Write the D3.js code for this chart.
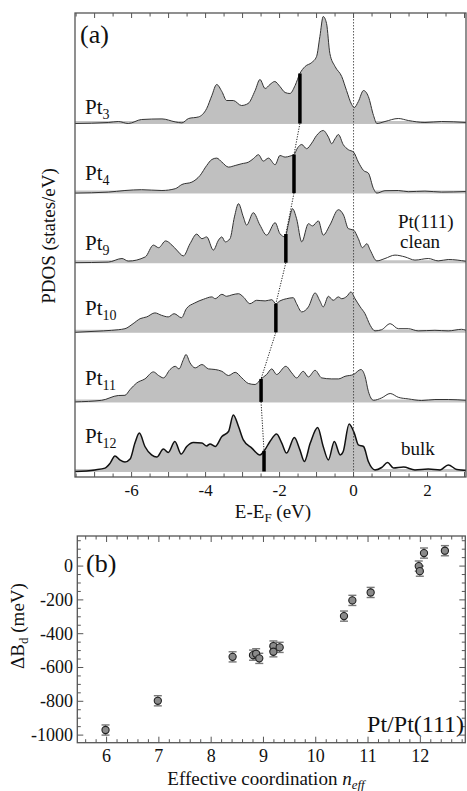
<!DOCTYPE html>
<html>
<head>
<meta charset="utf-8">
<script src="https://cdn.jsdelivr.net/npm/d3@7"></script>
<style>
  body { margin: 0; background: #fff; }
  text { font-family: "Liberation Serif", "Times New Roman", serif; fill: #111; }
</style>
</head>
<body>
<div id="chart"></div>
<script>
// ---- data ----
const clusters = ["3", "4", "9", "10", "11", "12"];

// PDOS curves, [E - E_F (eV), PDOS (states/eV)]
const pdosPt3 = [[-7.53,0],[-6.63,.05],[-6.36,.1],[-6.09,0],[-5.73,.2],[-5.18,.23],[-4.82,.08],[-4.64,.03],[-4.46,.25],[-4.19,.33],[-3.97,.75],[-3.83,1.4],[-3.70,1.95],[-3.56,1.6],[-3.43,1.15],[-3.25,1.15],[-3.03,.9],[-2.85,1.0],[-2.66,1.65],[-2.53,2.2],[-2.39,1.75],[-2.26,1.95],[-2.13,2.1],[-1.99,1.85],[-1.85,1.55],[-1.72,1.5],[-1.58,1.9],[-1.45,2.5],[-1.31,2.85],[-1.13,3.05],[-1.00,3.35],[-0.91,4.35],[-0.82,5.35],[-0.73,5.0],[-0.64,3.5],[-0.50,2.85],[-0.32,2.35],[-0.19,1.65],[-0.05,.95],[0.02,.8],[0.13,1.1],[0.27,1.65],[0.40,1.35],[0.54,.4],[0.63,0],[0.85,.1],[1.21,.25],[1.48,.15],[1.93,.05],[2.38,.1],[3.04,.05]];
const pdosPt4 = [[-7.53,0],[-6.63,.05],[-6.18,.13],[-5.73,.17],[-5.18,.13],[-4.82,.22],[-4.64,.43],[-4.37,.55],[-4.15,.88],[-3.97,1.38],[-3.83,1.68],[-3.70,1.75],[-3.56,1.55],[-3.38,1.3],[-3.20,1.38],[-3.02,1.47],[-2.84,1.55],[-2.71,1.72],[-2.57,1.92],[-2.44,1.6],[-2.30,1.75],[-2.12,1.42],[-1.99,1.88],[-1.85,1.8],[-1.72,1.85],[-1.61,1.93],[-1.51,2.27],[-1.40,2.43],[-1.27,2.22],[-1.13,2.5],[-1.00,2.88],[-0.82,3.13],[-0.68,2.8],[-0.59,2.47],[-0.50,2.72],[-0.41,2.93],[-0.28,2.43],[-0.14,2.17],[0.0,2.05],[0.13,1.55],[0.27,1.13],[0.40,1.0],[0.54,.22],[0.63,0],[0.85,.12],[1.21,.13],[1.48,.07],[1.93,.1],[2.38,.05],[3.04,.08]];
const pdosPt9 = [[-7.53,0],[-6.63,.03],[-6.26,.21],[-6.09,.08],[-5.63,.29],[-5.41,.88],[-5.27,.75],[-5.08,1.09],[-4.91,.88],[-4.78,.63],[-4.60,.34],[-4.42,.95],[-4.24,1.43],[-4.10,1.2],[-3.97,1.29],[-3.79,.63],[-3.65,1.13],[-3.56,1.29],[-3.47,1.04],[-3.34,1.2],[-3.22,2.29],[-3.11,2.95],[-2.98,2.29],[-2.89,1.88],[-2.71,2.5],[-2.53,1.88],[-2.35,1.38],[-2.12,2.0],[-1.99,1.45],[-1.85,1.29],[-1.76,1.95],[-1.65,2.7],[-1.54,2.2],[-1.40,1.04],[-1.22,1.95],[-1.11,1.84],[-0.95,2.09],[-0.82,1.38],[-0.64,1.88],[-0.41,2.65],[-0.27,2.38],[-0.14,1.7],[0.0,1.63],[0.13,1.2],[0.24,.75],[0.36,.95],[0.45,.63],[0.63,.09],[0.85,.21],[1.12,.38],[1.39,.29],[1.66,.13],[2.02,.21],[2.29,.09],[2.56,.16],[3.04,.07]];
const pdosPt10 = [[-7.53,0],[-6.99,.05],[-6.54,.1],[-6.18,.18],[-5.96,.43],[-5.77,.68],[-5.59,.77],[-5.37,.97],[-5.19,.85],[-5.01,.77],[-4.85,.93],[-4.65,.73],[-4.52,1.18],[-4.29,1.47],[-4.06,1.65],[-3.83,1.77],[-3.74,1.68],[-3.56,1.9],[-3.43,1.8],[-3.29,1.87],[-3.11,1.93],[-2.98,1.77],[-2.80,1.43],[-2.62,1.6],[-2.39,1.57],[-2.21,1.63],[-2.10,1.43],[-1.99,1.57],[-1.81,1.68],[-1.63,1.73],[-1.54,1.43],[-1.40,1.02],[-1.22,1.27],[-1.04,1.97],[-0.91,1.57],[-0.82,1.27],[-0.68,1.8],[-0.55,1.6],[-0.41,1.77],[-0.32,1.68],[-0.18,1.8],[-0.07,2.02],[0.04,1.68],[0.18,1.27],[0.31,.93],[0.45,.35],[0.58,.07],[0.76,.13],[0.99,.43],[1.21,.18],[1.48,.18],[1.75,.07],[2.20,.1],[2.56,.07],[2.92,.15],[3.04,.1]];
const pdosPt11 = [[-7.53,0],[-6.81,.08],[-6.36,.32],[-6.18,.33],[-6.04,.62],[-5.86,.95],[-5.64,1.15],[-5.41,1.5],[-5.27,1.32],[-5.14,1.2],[-4.96,1.62],[-4.82,1.78],[-4.72,1.65],[-4.60,2.12],[-4.53,2.37],[-4.42,1.95],[-4.28,1.7],[-4.10,1.87],[-3.92,1.65],[-3.74,1.62],[-3.56,1.53],[-3.38,1.32],[-3.20,1.48],[-3.02,1.2],[-2.84,.92],[-2.66,.87],[-2.50,1.15],[-2.35,1.37],[-2.21,1.65],[-2.08,1.37],[-1.83,1.78],[-1.67,1.45],[-1.54,1.2],[-1.36,1.53],[-1.22,1.25],[-1.04,1.58],[-0.86,1.2],[-0.59,1.15],[-0.41,1.15],[-0.23,1.28],[0.0,1.37],[0.20,1.62],[0.31,1.28],[0.40,.53],[0.54,.08],[0.76,.2],[0.99,.42],[1.21,.23],[1.48,.15],[1.84,.07],[2.20,.12],[2.56,.12],[3.04,.08]];
const pdosPt12 = [[-7.53,0],[-6.99,.08],[-6.72,.17],[-6.58,.42],[-6.45,.78],[-6.32,.58],[-6.18,.47],[-6.04,.62],[-5.91,1.42],[-5.79,1.92],[-5.64,1.25],[-5.46,.83],[-5.32,.72],[-5.14,1.12],[-5.01,.95],[-4.83,1.5],[-4.66,.87],[-4.51,1.25],[-4.33,1.45],[-4.10,1.42],[-3.97,1.28],[-3.88,1.38],[-3.74,1.25],[-3.56,1.75],[-3.38,2.0],[-3.25,2.83],[-3.11,2.25],[-2.98,1.58],[-2.75,1.17],[-2.53,.83],[-2.41,1.05],[-2.26,1.5],[-2.08,1.87],[-1.94,1.42],[-1.81,.92],[-1.60,1.7],[-1.45,1.08],[-1.33,.5],[-1.17,1.42],[-0.97,2.2],[-0.82,1.25],[-0.68,.58],[-0.52,1.5],[-0.36,.83],[-0.28,1.0],[-0.12,2.38],[0.02,1.92],[0.13,1.33],[0.27,1.25],[0.40,.5],[0.58,.08],[0.76,.2],[0.92,.45],[1.08,.17],[1.35,.22],[1.66,.08],[2.02,.12],[2.34,.08],[2.56,.33],[2.79,.1],[3.04,.05]];
const pdosCurves = [pdosPt3, pdosPt4, pdosPt9, pdosPt10, pdosPt11, pdosPt12];

// d-band centres (eV)
const dCentres = [-1.45, -1.61, -1.83, -2.10, -2.50, -2.42];
const occupiedTo = 0.6;

// panel (b)
const neff = [5.98, 6.98, 8.41, 8.80, 8.86, 8.92, 9.19, 9.19, 9.31, 10.54, 10.70, 11.05, 11.97, 11.99, 12.07, 12.47];
const deltaBd = [-970, -797, -537, -527, -519, -546, -473, -507, -481, -296, -203, -156, 0, -30, 77, 91];
const deltaErr = 30;

const energyTicks = [-6, -4, -2, 0, 2];
const coordTicks = [6, 7, 8, 9, 10, 11, 12];
const shiftTicks = [0, -200, -400, -600, -800, -1000];

// ---- drawing ----
const width = 467, height = 791;
const svg = d3.select("#chart").append("svg")
    .attr("width", width)
    .attr("height", height);

const frameColor = "#555";

// panel (a)
const a = { left: 75, right: 466, top: 13, bottom: 477 };
const x = d3.scaleLinear().domain([-7.53, 3.04]).range([a.left, a.right]);
const h = d3.scaleLinear().domain([0, 1]).range([0, 20]);
const baseline = i => 123.5 + i * 69.6;

svg.append("clipPath").attr("id", "occ")
  .append("rect")
    .attr("x", a.left).attr("y", 0)
    .attr("width", x(occupiedTo) - a.left).attr("height", a.bottom);

function valueAt(curve, e) {
    const i = d3.bisector(d => d[0]).left(curve, e);
    const p0 = curve[i - 1], p1 = curve[i];
    const t = (e - p0[0]) / (p1[0] - p0[0]);
    return p0[1] + t * (p1[1] - p0[1]);
}

pdosCurves.forEach((curve, i) => {
    const b = baseline(i);
    const area = d3.area()
        .x(d => x(d[0]))
        .y0(b)
        .y1(d => b - h(d[1]))
        .curve(d3.curveMonotoneX);
    const line = d3.line()
        .x(d => x(d[0]))
        .y(d => b - h(d[1]))
        .curve(d3.curveMonotoneX);

    svg.append("line")
        .attr("x1", a.left).attr("x2", a.right)
        .attr("y1", b - 1).attr("y2", b - 1)
        .attr("stroke", "#c4c4c4").attr("stroke-width", 3);

    svg.append("path")
        .datum(curve)
        .attr("d", area)
        .attr("fill", "#c0c0c0")
        .attr("clip-path", "url(#occ)");

    svg.append("path")
        .datum(curve)
        .attr("d", line)
        .attr("fill", "none")
        .attr("stroke", i === 5 ? "#111" : "#333")
        .attr("stroke-width", i === 5 ? 1.5 : 1);
});

// Fermi level
svg.append("line")
    .attr("x1", x(0)).attr("x2", x(0))
    .attr("y1", a.top).attr("y2", a.bottom)
    .attr("stroke", "#333").attr("stroke-width", 0.8)
    .attr("stroke-dasharray", "1.5,1.5");

// d-band centre bars and dotted connector
const bars = dCentres.map((e, i) => ({
    x: x(e),
    y0: baseline(i),
    y1: baseline(i) - h(valueAt(pdosCurves[i], e))
}));
for (let i = 0; i < bars.length - 1; i++) {
    svg.append("line")
        .attr("x1", bars[i].x).attr("y1", bars[i].y0)
        .attr("x2", bars[i + 1].x).attr("y2", bars[i + 1].y1)
        .attr("stroke", "#222").attr("stroke-width", 1)
        .attr("stroke-dasharray", "1.2,1.4");
}
svg.selectAll(".dbar")
  .data(bars)
  .enter().append("line")
    .attr("x1", d => d.x).attr("x2", d => d.x)
    .attr("y1", d => d.y0).attr("y2", d => d.y1)
    .attr("stroke", "#000").attr("stroke-width", 3.5);

// frame and ticks
svg.append("rect")
    .attr("x", a.left).attr("y", a.top)
    .attr("width", a.right - a.left).attr("height", a.bottom - a.top)
    .attr("fill", "none").attr("stroke", frameColor).attr("stroke-width", 1.3);

const eMinor = d3.range(-7.5, 3.01, 0.5);
[[a.bottom, -1], [a.top, 1]].forEach(([yy, dir]) => {
    svg.append("g").selectAll("line")
      .data(eMinor)
      .enter().append("line")
        .attr("x1", d => x(d)).attr("x2", d => x(d))
        .attr("y1", yy)
        .attr("y2", d => yy + dir * (Number.isInteger(d) ? 5 : 3.5))
        .attr("stroke", frameColor).attr("stroke-width", 1);
});

svg.append("g")
  .selectAll("text")
  .data(energyTicks)
  .enter().append("text")
    .attr("x", d => x(d))
    .attr("y", 496)
    .attr("text-anchor", "middle")
    .attr("font-size", 17)
    .text(d => d);

const xTitleA = svg.append("text")
    .attr("x", 273).attr("y", 518)
    .attr("text-anchor", "middle")
    .attr("font-size", 19);
xTitleA.append("tspan").text("E-E");
xTitleA.append("tspan").attr("font-size", 13).attr("dy", 4).text("F");
xTitleA.append("tspan").attr("dy", -4).text(" (eV)");

svg.append("text")
    .attr("transform", "translate(55,236) rotate(-90)")
    .attr("text-anchor", "middle")
    .attr("font-size", 19)
    .text("PDOS (states/eV)");

svg.append("text")
    .attr("x", 80).attr("y", 43)
    .attr("font-size", 26)
    .text("(a)");

const labelDy = [10, 13, 13, 17, 17, 29];
clusters.forEach((c, i) => {
    const t = svg.append("text")
        .attr("x", 85).attr("y", baseline(i) - labelDy[i])
        .attr("font-size", 21);
    t.append("tspan").text("Pt");
    t.append("tspan").attr("font-size", 14).attr("dy", 5).text(c);
});

svg.append("text").attr("x", 398).attr("y", 228).attr("font-size", 19).text("Pt(111)");
svg.append("text").attr("x", 400).attr("y", 248).attr("font-size", 19).text("clean");
svg.append("text").attr("x", 401).attr("y", 455).attr("font-size", 19).text("bulk");

// panel (b)
const bp = { left: 77.3, right: 465.3, top: 536, bottom: 742.7 };
const xb = d3.scaleLinear().domain([5.44, 12.86]).range([bp.left, bp.right]);
const yb = d3.scaleLinear().domain([-1045, 178]).range([bp.bottom, bp.top]);

svg.append("rect")
    .attr("x", bp.left).attr("y", bp.top)
    .attr("width", bp.right - bp.left).attr("height", bp.bottom - bp.top)
    .attr("fill", "none").attr("stroke", frameColor).attr("stroke-width", 1.3);

const nMinor = d3.range(56, 129, 2).map(d => d / 10);
[[bp.bottom, -1], [bp.top, 1]].forEach(([yy, dir]) => {
    svg.append("g").selectAll("line")
      .data(nMinor)
      .enter().append("line")
        .attr("x1", d => xb(d)).attr("x2", d => xb(d))
        .attr("y1", yy)
        .attr("y2", d => yy + dir * (Number.isInteger(d) ? 6 : 3.5))
        .attr("stroke", frameColor).attr("stroke-width", 1);
});
const sMinor = d3.range(-1000, 151, 50);
[[bp.left, 1], [bp.right, -1]].forEach(([xx, dir]) => {
    svg.append("g").selectAll("line")
      .data(sMinor)
      .enter().append("line")
        .attr("y1", d => yb(d)).attr("y2", d => yb(d))
        .attr("x1", xx)
        .attr("x2", d => xx + dir * (d % 200 === 0 ? 6 : 3.5))
        .attr("stroke", frameColor).attr("stroke-width", 1);
});

svg.append("g").selectAll("text")
  .data(coordTicks)
  .enter().append("text")
    .attr("x", d => xb(d)).attr("y", 762)
    .attr("text-anchor", "middle")
    .attr("font-size", 18)
    .text(d => d);

svg.append("g").selectAll("text")
  .data(shiftTicks)
  .enter().append("text")
    .attr("x", 73).attr("y", d => yb(d) + 6)
    .attr("text-anchor", "end")
    .attr("font-size", 18)
    .text(d => d);

const xTitleB = svg.append("text")
    .attr("x", 266).attr("y", 785)
    .attr("text-anchor", "middle")
    .attr("font-size", 19);
xTitleB.append("tspan").text("Effective coordination ");
xTitleB.append("tspan").attr("font-style", "italic").text("n");
xTitleB.append("tspan").attr("font-style", "italic").attr("font-size", 13).attr("dy", 4).text("eff");

const yTitleB = svg.append("text")
    .attr("transform", "translate(24,626) rotate(-90)")
    .attr("text-anchor", "middle")
    .attr("font-size", 19);
yTitleB.append("tspan").text("ΔB");
yTitleB.append("tspan").attr("font-size", 13).attr("dy", 4).text("d");
yTitleB.append("tspan").attr("dy", -4).text(" (meV)");

svg.append("text")
    .attr("x", 86).attr("y", 572)
    .attr("font-size", 26)
    .text("(b)");

svg.append("text")
    .attr("x", 464).attr("y", 732)
    .attr("text-anchor", "end")
    .attr("font-size", 24)
    .text("Pt/Pt(111)");

const pts = neff.map((n, i) => ({ n: n, v: deltaBd[i] }));
const eb = svg.append("g").attr("stroke", "#777").attr("stroke-width", 1.4);
pts.forEach(d => {
    const cx = xb(d.n);
    eb.append("line").attr("x1", cx).attr("x2", cx)
        .attr("y1", yb(d.v - deltaErr)).attr("y2", yb(d.v + deltaErr));
    [d.v - deltaErr, d.v + deltaErr].forEach(v => {
        eb.append("line").attr("x1", cx - 4).attr("x2", cx + 4)
            .attr("y1", yb(v)).attr("y2", yb(v));
    });
});
svg.append("g").selectAll("circle")
  .data(pts)
  .enter().append("circle")
    .attr("cx", d => xb(d.n))
    .attr("cy", d => yb(d.v))
    .attr("r", 3.6)
    .attr("fill", "#8a8a8a")
    .attr("stroke", "#222")
    .attr("stroke-width", 1.1);
</script>
</body>
</html>
